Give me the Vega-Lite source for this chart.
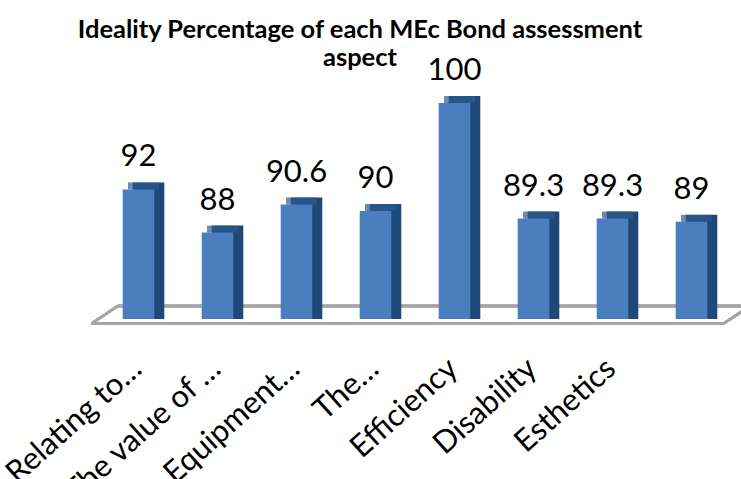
{
  "$schema": "https://vega.github.io/schema/vega-lite/v6.json",
  "width": 632,
  "height": 216,
  "autosize": {"type": "none"},
  "padding": {"left": 99, "top": 103, "right": 10, "bottom": 160},
  "background": "white",
  "config": {"view": {"stroke": null}, "font": "Lato"},
  "title": {
    "text": ["Ideality Percentage of each MEc Bond assessment", "aspect"],
    "font": "Lato",
    "fontSize": 25.5,
    "fontWeight": "bold",
    "color": "black",
    "anchor": "middle",
    "frame": "group",
    "dx": -55,
    "offset": -16,
    "lineHeight": 28
  },
  "data": {
    "values": [
      {"aspect": "Relating to…", "ideality": 92},
      {"aspect": "The value of …", "ideality": 88},
      {"aspect": "Equipment…", "ideality": 90.6},
      {"aspect": "The…", "ideality": 90},
      {"aspect": "Efficiency", "ideality": 100},
      {"aspect": "Disability", "ideality": 89.3},
      {"aspect": "Esthetics", "ideality": 89.3},
      {"aspect": "", "ideality": 89}
    ]
  },
  "resolve": {"scale": {"x": "independent"}},
  "layer": [
    {
      "layer": [
        {
          "mark": {"type": "rule", "color": "#A6A6A6", "strokeWidth": 2.5},
          "encoding": {
            "x": {"datum": -0.0116, "type": "quantitative", "scale": {"domain": [0, 1]}, "axis": null},
            "x2": {"datum": 0.9885},
            "y": {"datum": 79.58, "type": "quantitative", "scale": {"domain": [80, 100], "zero": false, "nice": false}, "axis": null},
            "y2": {"datum": 79.58}
          }
        },
        {
          "mark": {"type": "rule", "color": "#A6A6A6", "strokeWidth": 2.5},
          "encoding": {
            "x": {"datum": 0.0296, "type": "quantitative"},
            "x2": {"datum": 1.03},
            "y": {"datum": 81.2, "type": "quantitative"},
            "y2": {"datum": 81.2}
          }
        },
        {
          "mark": {"type": "rule", "color": "#A6A6A6", "strokeWidth": 2.5},
          "encoding": {
            "x": {"datum": -0.0116, "type": "quantitative"},
            "x2": {"datum": 0.0296},
            "y": {"datum": 79.58, "type": "quantitative"},
            "y2": {"datum": 81.2}
          }
        },
        {
          "mark": {"type": "rule", "color": "#A6A6A6", "strokeWidth": 2.5},
          "encoding": {
            "x": {"datum": 0.9885, "type": "quantitative"},
            "x2": {"datum": 1.03},
            "y": {"datum": 79.58, "type": "quantitative"},
            "y2": {"datum": 81.2}
          }
        }
      ]
    },
    {
      "encoding": {
        "x": {
          "field": "aspect",
          "type": "nominal",
          "sort": null,
          "scale": {"paddingInner": 0.6, "paddingOuter": 0.3},
          "axis": {
            "orient": "bottom",
            "title": null,
            "domain": false,
            "ticks": false,
            "labelAngle": -42,
            "labelFont": "Lato",
            "labelFontSize": 31,
            "labelColor": "black",
            "labelPadding": 34,
            "labelOffset": -11,
            "labelLimit": 0,
            "labelOverlap": false
          }
        },
        "y": {"field": "ideality", "type": "quantitative"}
      },
      "layer": [
        {
          "mark": {"type": "bar", "color": "#1D4877", "xOffset": 10, "yOffset": -7},
          "encoding": {"y2": {"datum": 80}}
        },
        {
          "mark": {"type": "tick", "color": "#2C5A92", "xOffset": 5, "yOffset": -3.5, "thickness": 7, "size": 31},
          "encoding": {}
        },
        {
          "mark": {"type": "bar", "color": "#4A7EBF"},
          "encoding": {"y2": {"datum": 80}}
        },
        {
          "mark": {"type": "text", "font": "Lato", "fontSize": 31, "color": "black", "baseline": "alphabetic", "dy": -23},
          "encoding": {"text": {"field": "ideality", "type": "quantitative", "format": "~g"}}
        }
      ]
    }
  ]
}
